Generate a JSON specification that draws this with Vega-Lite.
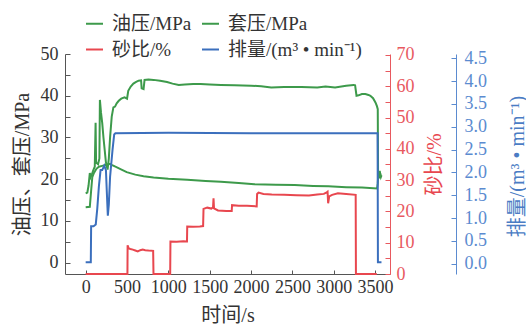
{
"$schema":"https://vega.github.io/schema/vega-lite/v6.json",
"width":325,"height":220,
"autosize":{"type":"none"},
"padding":{"left":65,"top":54,"right":136,"bottom":53},
"background":"white",
"config":{"view":{"stroke":null},"font":"Liberation Serif, Noto Sans CJK SC, serif"},
"datasets":{
"press":[
{"s":"油压/MPa","t":0,"v":16.6},{"s":"油压/MPa","t":20,"v":16.8},{"s":"油压/MPa","t":35,"v":18.5},{"s":"油压/MPa","t":50,"v":21.5},{"s":"油压/MPa","t":60,"v":20.5},{"s":"油压/MPa","t":75,"v":21.2},{"s":"油压/MPa","t":95,"v":22.3},{"s":"油压/MPa","t":110,"v":23},{"s":"油压/MPa","t":120,"v":33.5},{"s":"油压/MPa","t":126,"v":24},{"s":"油压/MPa","t":150,"v":23.6},{"s":"油压/MPa","t":166,"v":25},{"s":"油压/MPa","t":172,"v":39},{"s":"油压/MPa","t":185,"v":36},{"s":"油压/MPa","t":200,"v":33.5},{"s":"油压/MPa","t":215,"v":30},{"s":"油压/MPa","t":230,"v":27},{"s":"油压/MPa","t":245,"v":24},{"s":"油压/MPa","t":265,"v":22.3},{"s":"油压/MPa","t":280,"v":25},{"s":"油压/MPa","t":295,"v":30},{"s":"油压/MPa","t":315,"v":35},{"s":"油压/MPa","t":335,"v":37.2},{"s":"油压/MPa","t":355,"v":37.4},{"s":"油压/MPa","t":375,"v":38.2},{"s":"油压/MPa","t":400,"v":38.8},{"s":"油压/MPa","t":430,"v":39.3},{"s":"油压/MPa","t":470,"v":39.6},{"s":"油压/MPa","t":500,"v":39.3},{"s":"油压/MPa","t":515,"v":41.2},{"s":"油压/MPa","t":545,"v":42.2},{"s":"油压/MPa","t":577,"v":42.9},{"s":"油压/MPa","t":610,"v":43.3},{"s":"油压/MPa","t":640,"v":43.6},{"s":"油压/MPa","t":670,"v":43.7},{"s":"油压/MPa","t":677,"v":41.8},{"s":"油压/MPa","t":700,"v":41.6},{"s":"油压/MPa","t":712,"v":43.8},{"s":"油压/MPa","t":760,"v":43.9},{"s":"油压/MPa","t":821,"v":43.8},{"s":"油压/MPa","t":900,"v":43.6},{"s":"油压/MPa","t":984,"v":43.3},{"s":"油压/MPa","t":1050,"v":42.9},{"s":"油压/MPa","t":1126,"v":42.6},{"s":"油压/MPa","t":1200,"v":42.7},{"s":"油压/MPa","t":1300,"v":42.8},{"s":"油压/MPa","t":1390,"v":42.8},{"s":"油压/MPa","t":1500,"v":42.7},{"s":"油压/MPa","t":1634,"v":42.6},{"s":"油压/MPa","t":1800,"v":42.5},{"s":"油压/MPa","t":2000,"v":42.4},{"s":"油压/MPa","t":2122,"v":42.3},{"s":"油压/MPa","t":2244,"v":42.0},{"s":"油压/MPa","t":2400,"v":42.1},{"s":"油压/MPa","t":2610,"v":42.1},{"s":"油压/MPa","t":2800,"v":42.0},{"s":"油压/MPa","t":2900,"v":42.2},{"s":"油压/MPa","t":3016,"v":42.0},{"s":"油压/MPa","t":3150,"v":42.4},{"s":"油压/MPa","t":3240,"v":42.6},{"s":"油压/MPa","t":3258,"v":42.5},{"s":"油压/MPa","t":3275,"v":40.0},{"s":"油压/MPa","t":3300,"v":40.1},{"s":"油压/MPa","t":3340,"v":40.4},{"s":"油压/MPa","t":3382,"v":40.4},{"s":"油压/MPa","t":3420,"v":40.2},{"s":"油压/MPa","t":3443,"v":40.0},{"s":"油压/MPa","t":3475,"v":39.4},{"s":"油压/MPa","t":3504,"v":38.4},{"s":"油压/MPa","t":3522,"v":37.5},{"s":"油压/MPa","t":3532,"v":36.8},{"s":"油压/MPa","t":3536,"v":20.5},{"s":"油压/MPa","t":3545,"v":21.8},{"s":"油压/MPa","t":3552,"v":20.2},{"s":"油压/MPa","t":3560,"v":21.5},{"s":"油压/MPa","t":3570,"v":20.6},{"s":"油压/MPa","t":3577,"v":21.0},
{"s":"套压/MPa","t":0,"v":13.3},{"s":"套压/MPa","t":50,"v":13.4},{"s":"套压/MPa","t":65,"v":17},{"s":"套压/MPa","t":80,"v":20.5},{"s":"套压/MPa","t":100,"v":21.5},{"s":"套压/MPa","t":130,"v":22.5},{"s":"套压/MPa","t":160,"v":23},{"s":"套压/MPa","t":200,"v":23.2},{"s":"套压/MPa","t":240,"v":23.4},{"s":"套压/MPa","t":270,"v":23.5},{"s":"套压/MPa","t":293,"v":23.7},{"s":"套压/MPa","t":320,"v":23.4},{"s":"套压/MPa","t":360,"v":23},{"s":"套压/MPa","t":415,"v":22.5},{"s":"套压/MPa","t":496,"v":21.7},{"s":"套压/MPa","t":600,"v":21.1},{"s":"套压/MPa","t":700,"v":20.7},{"s":"套压/MPa","t":821,"v":20.4},{"s":"套压/MPa","t":1000,"v":20.1},{"s":"套压/MPa","t":1228,"v":19.9},{"s":"套压/MPa","t":1450,"v":19.6},{"s":"套压/MPa","t":1634,"v":19.4},{"s":"套压/MPa","t":1850,"v":19.1},{"s":"套压/MPa","t":2040,"v":18.8},{"s":"套压/MPa","t":2300,"v":18.7},{"s":"套压/MPa","t":2528,"v":18.6},{"s":"套压/MPa","t":2750,"v":18.4},{"s":"套压/MPa","t":2935,"v":18.3},{"s":"套压/MPa","t":3150,"v":18.1},{"s":"套压/MPa","t":3341,"v":18.0},{"s":"套压/MPa","t":3524,"v":17.8},{"s":"套压/MPa","t":3532,"v":19},{"s":"套压/MPa","t":3540,"v":21.5},{"s":"套压/MPa","t":3548,"v":20.5},{"s":"套压/MPa","t":3556,"v":22},{"s":"套压/MPa","t":3565,"v":20.8},{"s":"套压/MPa","t":3577,"v":20.5}
],
"sand":[
{"s":"砂比/%","t":0,"v":0},{"s":"砂比/%","t":505,"v":0},{"s":"砂比/%","t":507,"v":9.2},{"s":"砂比/%","t":520,"v":8.2},{"s":"砂比/%","t":540,"v":8.0},{"s":"砂比/%","t":570,"v":7.8},{"s":"砂比/%","t":600,"v":7.5},{"s":"砂比/%","t":630,"v":7.2},{"s":"砂比/%","t":660,"v":7.6},{"s":"砂比/%","t":690,"v":7.8},{"s":"砂比/%","t":720,"v":7.6},{"s":"砂比/%","t":760,"v":7.5},{"s":"砂比/%","t":816,"v":7.4},{"s":"砂比/%","t":820,"v":0},{"s":"砂比/%","t":1022,"v":0},{"s":"砂比/%","t":1025,"v":10.4},{"s":"砂比/%","t":1100,"v":10.3},{"s":"砂比/%","t":1180,"v":10.5},{"s":"砂比/%","t":1225,"v":10.4},{"s":"砂比/%","t":1228,"v":15.2},{"s":"砂比/%","t":1300,"v":15.1},{"s":"砂比/%","t":1380,"v":15.2},{"s":"砂比/%","t":1420,"v":15.3},{"s":"砂比/%","t":1425,"v":20.8},{"s":"砂比/%","t":1470,"v":21.2},{"s":"砂比/%","t":1520,"v":20.9},{"s":"砂比/%","t":1540,"v":21.3},{"s":"砂比/%","t":1546,"v":24.2},{"s":"砂比/%","t":1552,"v":21.0},{"s":"砂比/%","t":1600,"v":20.3},{"s":"砂比/%","t":1700,"v":20.1},{"s":"砂比/%","t":1766,"v":20.1},{"s":"砂比/%","t":1770,"v":22.0},{"s":"砂比/%","t":1850,"v":21.8},{"s":"砂比/%","t":1950,"v":21.8},{"s":"砂比/%","t":2068,"v":21.6},{"s":"砂比/%","t":2073,"v":25.6},{"s":"砂比/%","t":2090,"v":26.0},{"s":"砂比/%","t":2150,"v":25.6},{"s":"砂比/%","t":2250,"v":25.4},{"s":"砂比/%","t":2400,"v":25.3},{"s":"砂比/%","t":2550,"v":25.2},{"s":"砂比/%","t":2700,"v":25.1},{"s":"砂比/%","t":2800,"v":25.4},{"s":"砂比/%","t":2880,"v":25.6},{"s":"砂比/%","t":2915,"v":26.1},{"s":"砂比/%","t":2925,"v":26.3},{"s":"砂比/%","t":2932,"v":22.6},{"s":"砂比/%","t":2945,"v":24.8},{"s":"砂比/%","t":2980,"v":25.3},{"s":"砂比/%","t":3050,"v":25.8},{"s":"砂比/%","t":3150,"v":25.6},{"s":"砂比/%","t":3265,"v":25.3},{"s":"砂比/%","t":3268,"v":0},{"s":"砂比/%","t":3520,"v":0}
],
"rate":[
{"s":"排量/(m³ • min⁻¹)","t":0,"v":0.03},{"s":"排量/(m³ • min⁻¹)","t":62,"v":0.03},{"s":"排量/(m³ • min⁻¹)","t":66,"v":0.82},{"s":"排量/(m³ • min⁻¹)","t":95,"v":0.82},{"s":"排量/(m³ • min⁻¹)","t":122,"v":0.86},{"s":"排量/(m³ • min⁻¹)","t":140,"v":1.2},{"s":"排量/(m³ • min⁻¹)","t":160,"v":1.7},{"s":"排量/(m³ • min⁻¹)","t":180,"v":2.05},{"s":"排量/(m³ • min⁻¹)","t":200,"v":2.05},{"s":"排量/(m³ • min⁻¹)","t":225,"v":2.15},{"s":"排量/(m³ • min⁻¹)","t":245,"v":2.05},{"s":"排量/(m³ • min⁻¹)","t":255,"v":1.6},{"s":"排量/(m³ • min⁻¹)","t":268,"v":1.05},{"s":"排量/(m³ • min⁻¹)","t":280,"v":1.3},{"s":"排量/(m³ • min⁻¹)","t":295,"v":1.9},{"s":"排量/(m³ • min⁻¹)","t":310,"v":2.2},{"s":"排量/(m³ • min⁻¹)","t":325,"v":2.5},{"s":"排量/(m³ • min⁻¹)","t":345,"v":2.83},{"s":"排量/(m³ • min⁻¹)","t":360,"v":2.86},{"s":"排量/(m³ • min⁻¹)","t":1000,"v":2.87},{"s":"排量/(m³ • min⁻¹)","t":2000,"v":2.86},{"s":"排量/(m³ • min⁻¹)","t":3000,"v":2.86},{"s":"排量/(m³ • min⁻¹)","t":3530,"v":2.86},{"s":"排量/(m³ • min⁻¹)","t":3534,"v":0.03},{"s":"排量/(m³ • min⁻¹)","t":3577,"v":0.03}
]
},
"encoding":{
"x":{"field":"t","type":"quantitative","scale":{"domain":[-250,3680],"nice":false,"zero":false},
"axis":{"values":[0,500,1000,1500,2000,2500,3000,3500],"format":"d","title":"时间/s","titleFontSize":20,"titleFontWeight":"normal","titleColor":"#333","titlePadding":9,"labelFontSize":18,"labelColor":"#333","labelPadding":8,"tickSize":-4,"tickColor":"#555","domainColor":"#555","grid":false,"labelFlush":false,"labelOverlap":false}}
},
"layer":[
{"data":{"name":"press"},"mark":{"type":"line","strokeWidth":2},
"encoding":{
"y":{"field":"v","type":"quantitative","scale":{"domain":[-2.7,50],"nice":false,"zero":false},
"axis":{"orient":"left","values":[0,5,10,15,20,25,30,35,40,45,50],"labelExpr":"datum.value % 10 === 0 ? datum.label : ''","title":"油压、套压/MPa","titleFontSize":20,"titleFontWeight":"normal","titleColor":"#333","titlePadding":8,"labelFontSize":18,"labelColor":"#333","labelPadding":12,"tickSize":-5,"tickColor":"#555","domainColor":"#555","grid":false,"labelFlush":false,"labelOverlap":false}},
"detail":{"field":"s"},
"color":{"field":"s","type":"nominal","scale":{"domain":["油压/MPa","砂比/%","套压/MPa","排量/(m³ • min⁻¹)"],"range":["#3d9a4b","#e8474f","#3d9a4b","#3b6fbd"]},
"legend":{"orient":"none","legendX":20,"legendY":-40,"columns":2,"columnPadding":6,"rowPadding":6,"title":null,"labelFontSize":19,"labelColor":"#333","labelLimit":300,"symbolType":"stroke","symbolSize":289,"symbolStrokeWidth":2,"labelOffset":8}}
}},
{"data":{"name":"sand"},"mark":{"type":"line","strokeWidth":2},
"encoding":{
"y":{"field":"v","type":"quantitative","scale":{"domain":[0,70.3],"nice":false,"zero":false},
"axis":{"orient":"right","values":[0,5,10,15,20,25,30,35,40,45,50,55,60,65,70],"labelExpr":"datum.value % 10 === 0 ? datum.label : ''","title":"砂比/%","titleAngle":-90,"titleX":44,"titleY":110,"titleAlign":"center","titleBaseline":"middle","titleFontSize":20,"titleFontWeight":"normal","titleColor":"#e8474f","labelFontSize":18,"labelColor":"#e8595f","labelPadding":11,"tickSize":-5,"tickColor":"#e8595f","domainColor":"#e8595f","grid":false,"labelFlush":false,"labelOverlap":false}},
"color":{"field":"s","type":"nominal"}
}},
{"data":{"name":"rate"},"mark":{"type":"line","strokeWidth":2},
"encoding":{
"y":{"field":"v","type":"quantitative","scale":{"domain":[-0.226,4.594],"nice":false,"zero":false},
"axis":{"orient":"right","offset":66,"values":[0,0.5,1,1.5,2,2.5,3,3.5,4,4.5],"format":".1f","title":"排量/(m³ • min⁻¹)","titleAngle":-90,"titleX":61,"titleY":112,"titleAlign":"center","titleBaseline":"middle","titleFontSize":20,"titleFontWeight":"normal","titleColor":"#4a7cc4","labelFontSize":18,"labelColor":"#5b8bd0","labelPadding":13,"tickSize":-5,"tickColor":"#5b8bd0","domainColor":"#5b8bd0","grid":false,"labelFlush":false,"labelOverlap":false}},
"color":{"field":"s","type":"nominal"}
}}
],
"resolve":{"scale":{"y":"independent"},"axis":{"y":"independent"}}
}
